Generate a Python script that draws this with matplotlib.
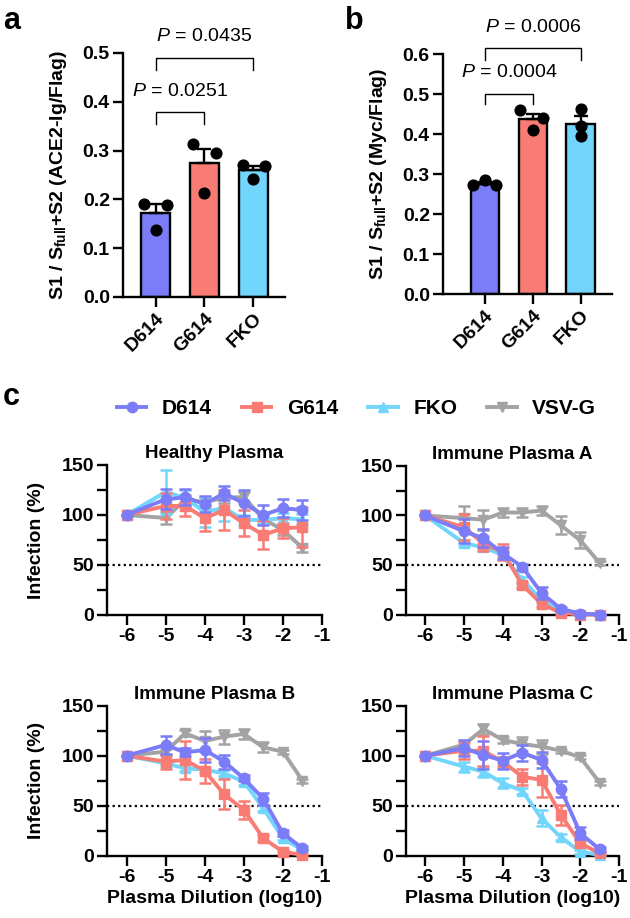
import numpy as np
import matplotlib
matplotlib.use('Agg')
import matplotlib.pyplot as plt
from matplotlib.ticker import MultipleLocator
from matplotlib.lines import Line2D

plt.rcParams['font.family'] = ['Liberation Sans', 'DejaVu Sans']
plt.rcParams['mathtext.fontset'] = 'custom'
plt.rcParams['mathtext.rm'] = 'Liberation Sans'
plt.rcParams['mathtext.it'] = 'Liberation Sans:italic'
plt.rcParams['mathtext.bf'] = 'Liberation Sans:bold'
plt.rcParams['axes.unicode_minus'] = False

# ---------------- data ----------------
variants = ['D614', 'G614', 'FKO']
a_points = [[0.190, 0.189, 0.137], [0.313, 0.294, 0.214], [0.270, 0.268, 0.242]]
b_points = [[0.272, 0.285, 0.272], [0.460, 0.440, 0.410], [0.4625, 0.420, 0.395]]
a_pvals = ['0.0251', '0.0435']
b_pvals = ['0.0004', '0.0006']

dilution = [-6, -5, -4.5, -4, -3.5, -3, -2.5, -2, -1.5]
series_names = ['D614', 'G614', 'FKO', 'VSV-G']
panel_titles = ['Healthy Plasma', 'Immune Plasma A', 'Immune Plasma B', 'Immune Plasma C']

healthy_d614 = [100, 115.7, 117.7, 111, 121.7, 111.7, 100, 106.7, 105]
healthy_d614_err = [0, 10, 8, 8, 7, 13, 10, 9, 10]
healthy_g614 = [100, 109, 109, 96.7, 105, 91.7, 80, 86.7, 87.7]
healthy_g614_err = [0, 13, 10, 13, 20, 13, 14, 10, 20]
healthy_fko = [100, 123, 117, 103, 107, 95, 95, 96.7, 95.7]
healthy_fko_err = [0, 22, 8, 15, 13, 5, 4, 5, 5]
healthy_vsvg = [100, 97, 115, 113, 117, 118, 96, 85, 67]
healthy_vsvg_err = [0, 6, 5, 5, 5, 5, 5, 5, 4]

a_d614 = [100, 84, 77, 61.7, 48.3, 21.7, 5.7, 1, 0]
a_d614_err = [0, 12, 9, 6, 3, 6, 2, 1, 1]
a_g614 = [100, 88, 71.7, 63, 30, 10.7, 1.7, 0, 0]
a_g614_err = [0, 13, 8, 8, 3, 3, 1, 0.5, 0.5]
a_fko = [100, 72, 68, 60, 35, 15, 3, 0.5, 0]
a_fko_err = [0, 3, 3, 3, 3, 2, 1, 0.5, 0.5]
a_vsvg = [100, 97.3, 95.7, 103, 103, 105, 90, 75, 52]
a_vsvg_err = [0, 12, 10, 5, 5, 5, 9, 8, 2]

b_d614 = [100, 110.7, 103.3, 105.7, 94, 77.3, 56.7, 22.3, 7.3]
b_d614_err = [0, 9, 4, 12, 7, 3, 6, 3, 2]
b_g614 = [100, 94, 95.7, 84.7, 61.3, 45.7, 17.3, 4, 0.7]
b_g614_err = [0, 7, 19, 12, 15, 9, 3, 2, 1]
b_fko = [100, 92.3, 87.4, 86, 82.3, 74, 47.3, 17.3, 5.7]
b_fko_err = [0, 3, 3, 3, 3, 3, 3, 2, 1]
b_vsvg = [100, 104, 122.3, 114.7, 119, 121.7, 108.3, 104, 75]
b_vsvg_err = [0, 3, 3, 10, 7, 5, 5, 2, 2]

c_d614 = [100, 107.4, 100.7, 95, 103, 95.7, 66.4, 22.4, 6.4]
c_d614_err = [0, 8, 14, 8, 8, 8, 8, 6, 2]
c_g614 = [100, 105, 104.7, 94, 79, 75.7, 40.7, 12.4, 2.4]
c_g614_err = [0, 8, 15, 5, 8, 17, 10, 3, 1]
c_fko = [100, 89, 84, 72.4, 65, 37.4, 18.4, 4, 0.7]
c_fko_err = [0, 5, 5, 5, 3, 8, 3, 2, 1]
c_vsvg = [100, 111, 126.7, 115.7, 111.7, 109, 105, 98.4, 73]
c_vsvg_err = [0, 4, 5, 3, 7, 7, 2, 2, 2]

panel_data = [
    [(healthy_d614, healthy_d614_err), (healthy_g614, healthy_g614_err),
     (healthy_fko, healthy_fko_err), (healthy_vsvg, healthy_vsvg_err)],
    [(a_d614, a_d614_err), (a_g614, a_g614_err), (a_fko, a_fko_err), (a_vsvg, a_vsvg_err)],
    [(b_d614, b_d614_err), (b_g614, b_g614_err), (b_fko, b_fko_err), (b_vsvg, b_vsvg_err)],
    [(c_d614, c_d614_err), (c_g614, c_g614_err), (c_fko, c_fko_err), (c_vsvg, c_vsvg_err)],
]

# ---------------- style ----------------
colors = ['#7A7CF8', '#F87C74', '#72D5FB', '#A3A3A3']
markers = ['o', 's', '^', 'v']
a_jitter = [[-0.23, 0.23, 0.0], [-0.24, 0.23, 0.0], [-0.22, 0.24, 0.0]]
b_jitter = [[-0.25, 0.0, 0.23], [-0.27, 0.21, 0.0], [0.0, 0.0, 0.0]]
SPW = 1.7
TICKFS = 14
LABFS = 14

fig = plt.figure(figsize=(6.3, 9.18), dpi=100)


def style_axes(ax):
    for s in ['top', 'right']:
        ax.spines[s].set_visible(False)
    for s in ['left', 'bottom']:
        ax.spines[s].set_linewidth(SPW)
    ax.tick_params(width=SPW, length=7, labelsize=TICKFS, which='major', pad=2.5)
    ax.tick_params(width=SPW, length=7, which='minor')
    for lab in ax.get_xticklabels() + ax.get_yticklabels():
        lab.set_fontweight('bold')


def bar_panel(ax, points, jitter, pvals, ylim, ystep, ylabel, brackets, lpad):
    x = np.arange(len(variants))
    pts = np.array(points)
    means = pts.mean(axis=1)
    sems = pts.std(axis=1, ddof=1) / np.sqrt(pts.shape[1])
    ax.bar(x, means, width=0.6, color=colors[:3], edgecolor='black', linewidth=1.7, zorder=2)
    ax.errorbar(x, means, yerr=[np.zeros_like(sems), sems], fmt='none', ecolor='black',
                elinewidth=1.7, capsize=5, capthick=1.7, zorder=3)
    for i in range(len(variants)):
        ax.scatter(x[i] + np.array(jitter[i]), pts[i], s=60, color='black', zorder=4,
                   clip_on=False)
    ax.set_ylim(*ylim)
    ax.yaxis.set_major_locator(MultipleLocator(ystep))
    ax.set_xticks(x)
    ax.set_xticklabels(variants, rotation=45, ha='right', rotation_mode='anchor')
    ax.set_ylabel(ylabel, fontsize=LABFS, fontweight='bold', labelpad=lpad)
    style_axes(ax)
    ax.yaxis.set_major_formatter(matplotlib.ticker.FormatStrFormatter('%.1f'))
    for (i0, i1, ybar, ytick, ytext), p in zip(brackets, pvals):
        ax.plot([x[i0], x[i0], x[i1], x[i1]], [ytick, ybar, ybar, ytick], color='black',
                lw=1.0, clip_on=False)
        ax.text((x[i0] + x[i1]) / 2, ytext, r'$P$ = ' + p, ha='center', va='center',
                fontsize=14, clip_on=False)


# panel a
axa = fig.add_axes([0.1952, 0.6765, 0.2571, 0.2658])
bar_panel(axa, a_points, a_jitter, a_pvals, (0, 0.5), 0.1,
          r'S1 / S$_{\mathbf{full}}$+S2 (ACE2-Ig/Flag)',
          [(0, 1, 0.380, 0.355, 0.422), (0, 2, 0.490, 0.465, 0.533)], 10)
axa.set_xlim(-0.67, 2.65)
for lab in axa.get_xticklabels():
    lab.set_fontweight('bold')

# panel b
axb = fig.add_axes([0.7032, 0.6797, 0.2683, 0.2614])
bar_panel(axb, b_points, b_jitter, b_pvals, (0, 0.6), 0.1,
          r'S1 / S$_{\mathbf{full}}$+S2 (Myc/Flag)',
          [(0, 1, 0.500, 0.475, 0.555), (0, 2, 0.616, 0.585, 0.667)], 10)
axb.set_xlim(-0.875, 2.65)
for lab in axb.get_xticklabels():
    lab.set_fontweight('bold')

# panel c
positions = [
    [0.1698, 0.3301, 0.3413, 0.1634],
    [0.6444, 0.3306, 0.3381, 0.1618],
    [0.1698, 0.0679, 0.3413, 0.1634],
    [0.6444, 0.0679, 0.3381, 0.1634],
]
draw_order = [3, 2, 1, 0]
for k, (pos, title, pdata) in enumerate(zip(positions, panel_titles, panel_data)):
    ax = fig.add_axes(pos)
    ax.axhline(50, color='black', lw=1.6, ls=(0, (1, 1.5)), zorder=1)
    for si in draw_order:
        yv, ye = pdata[si]
        ax.errorbar(dilution, yv, yerr=ye, color=colors[si], marker=markers[si],
                    markersize=7.5, lw=2.8, elinewidth=1.8, capsize=4, capthick=1.8,
                    zorder=2 + (3 - si), clip_on=False)
    ax.set_xlim(-6.5, -1)
    ax.set_ylim(0, 150)
    ax.set_xticks([-6, -5, -4, -3, -2, -1])
    ax.set_yticks([0, 50, 100, 150])
    ax.yaxis.set_minor_locator(MultipleLocator(25))
    ax.set_title(title, fontsize=13.5, fontweight='bold', pad=5)
    if k % 2 == 0:
        ax.set_ylabel('Infection (%)', fontsize=LABFS, fontweight='bold', labelpad=12)
    if k >= 2:
        ax.set_xlabel('Plasma Dilution (log10)', fontsize=LABFS, fontweight='bold', labelpad=3)
    style_axes(ax)

handles = [Line2D([], [], color=colors[i], marker=markers[i], markersize=7.5, lw=2.8)
           for i in range(4)]
leg = fig.legend(handles, series_names, loc='center', bbox_to_anchor=(0.566, 0.5545), ncol=4,
                 frameon=False, handlelength=1.4, handletextpad=0.75, columnspacing=1.45,
                 prop={'weight': 'bold', 'size': 15})

fig.text(0.005, 0.977, 'a', fontsize=22, fontweight='bold', va='center')
fig.text(0.548, 0.977, 'b', fontsize=22, fontweight='bold', va='center')
fig.text(0.005, 0.567, 'c', fontsize=22, fontweight='bold', va='center')

fig.savefig('out.png', dpi=100)
